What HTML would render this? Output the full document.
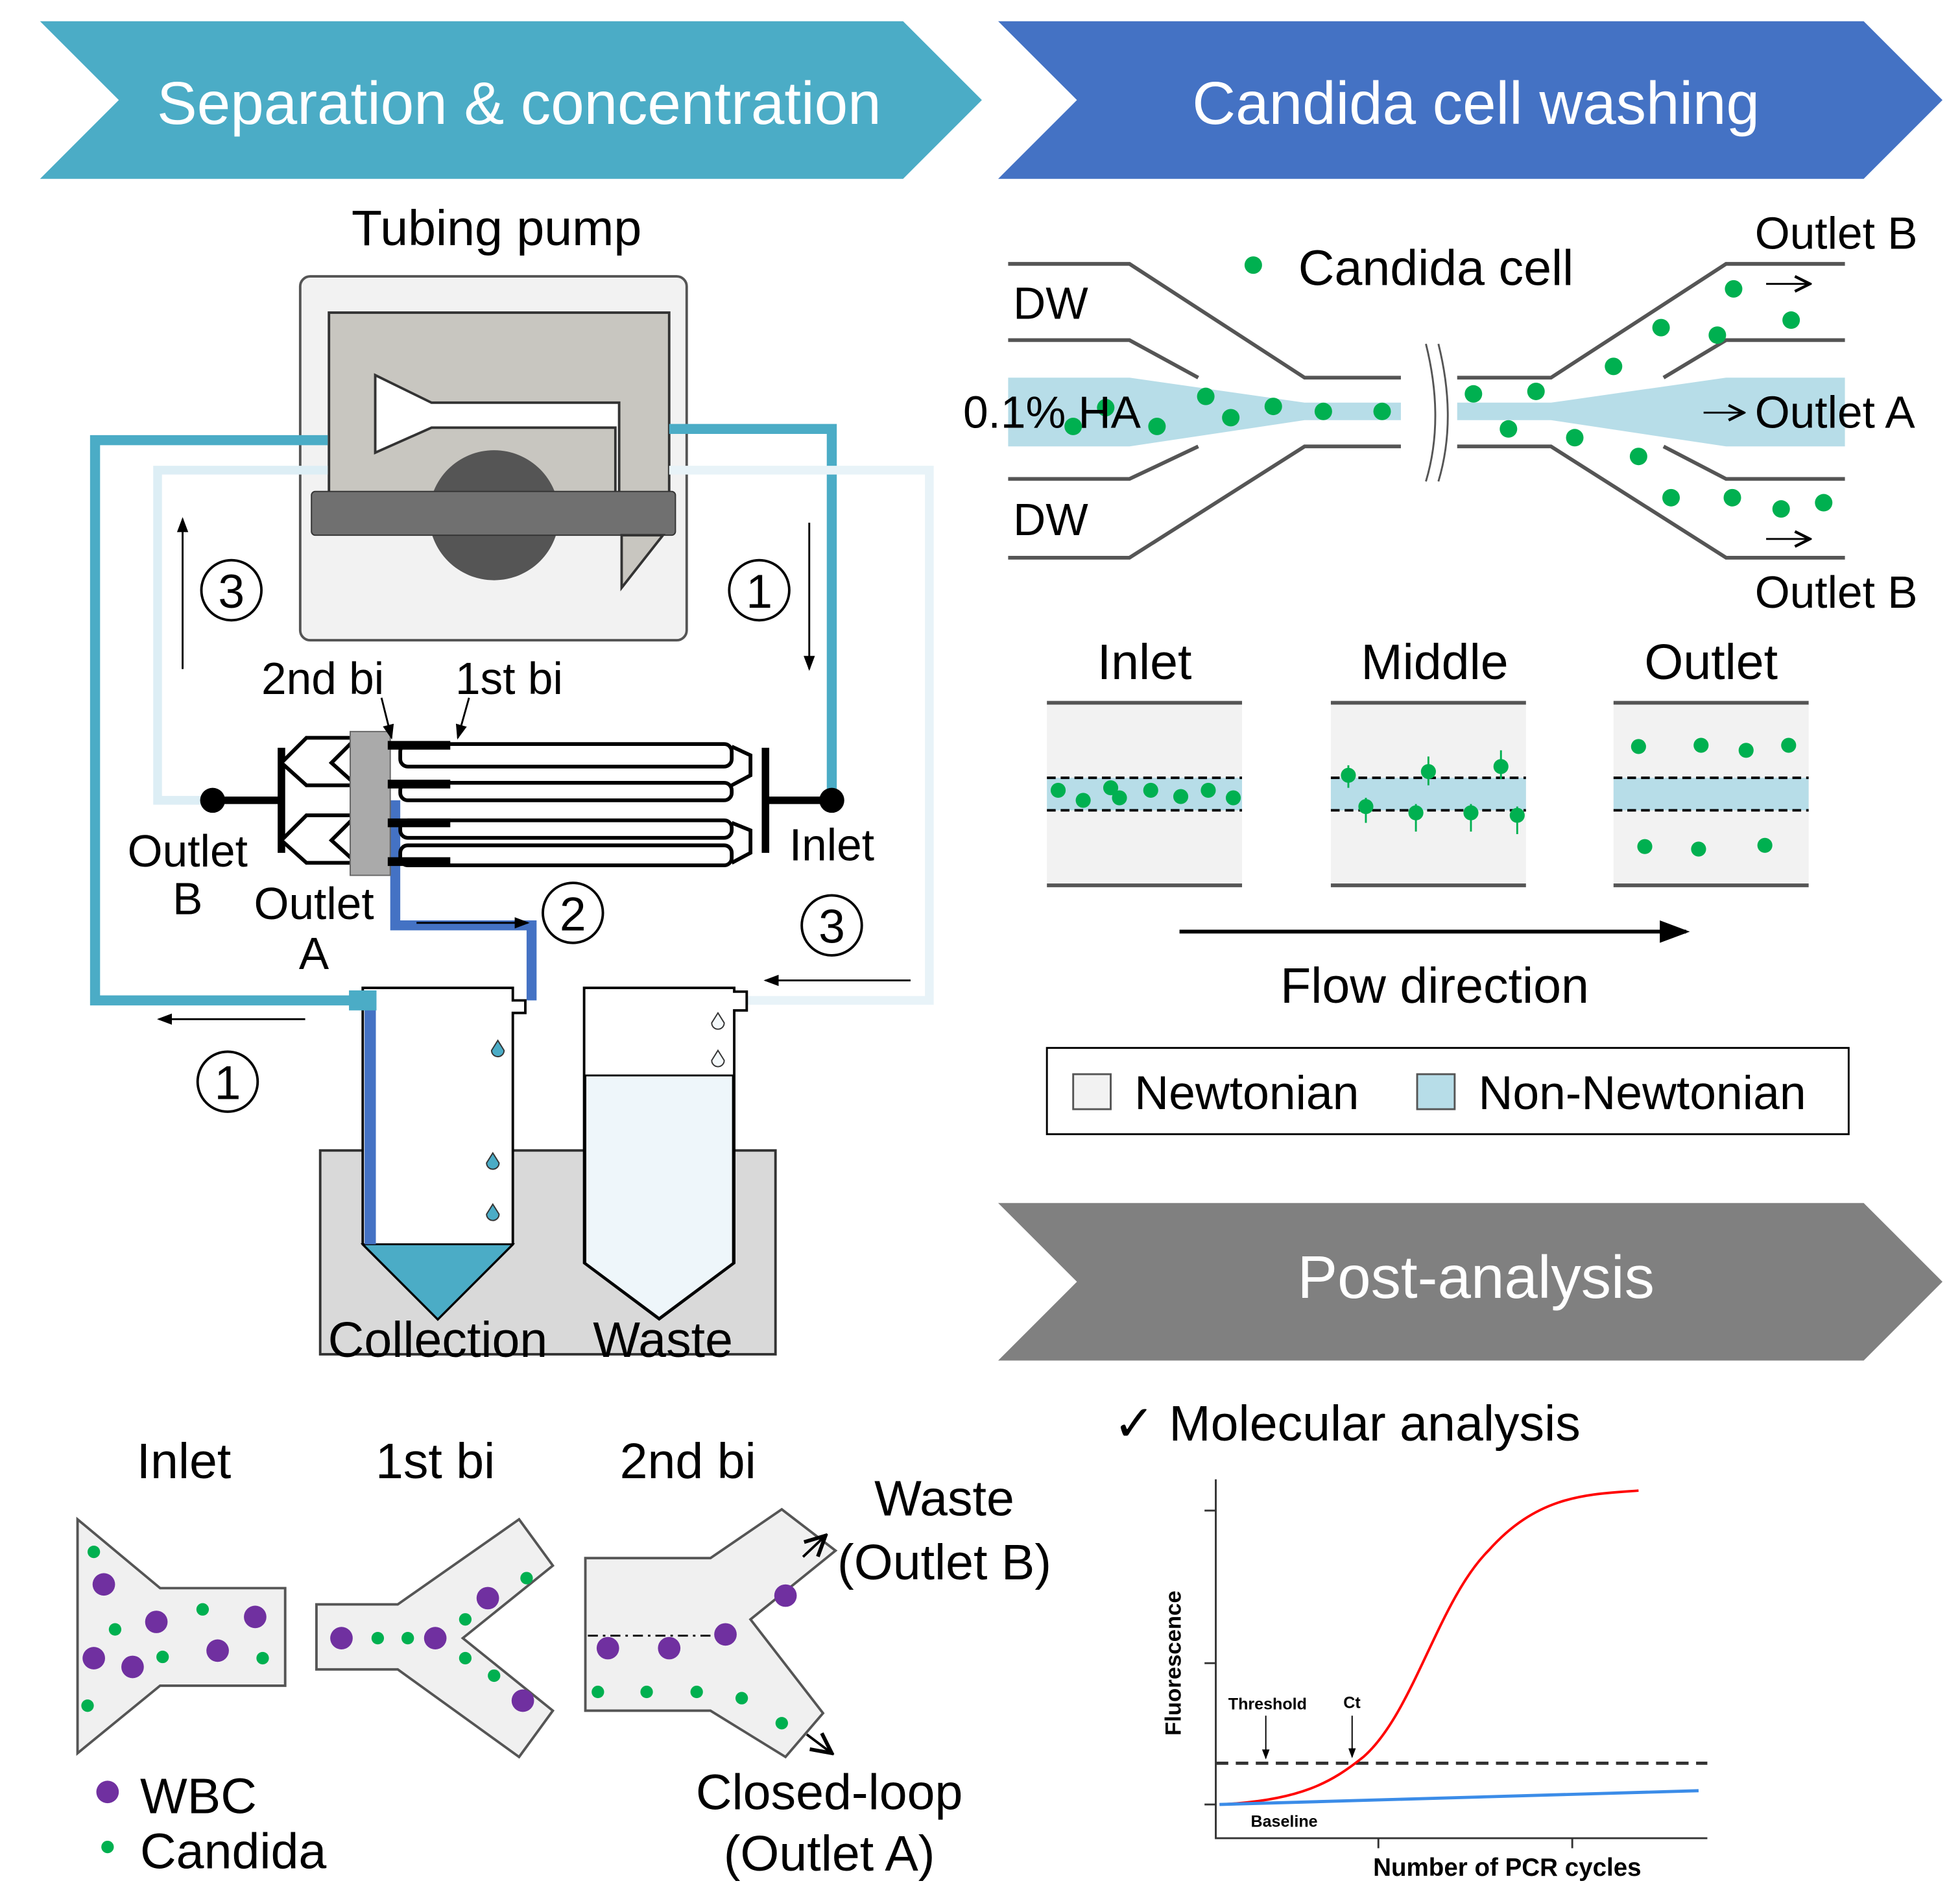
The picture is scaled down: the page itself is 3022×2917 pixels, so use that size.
<!DOCTYPE html>
<html><head><meta charset="utf-8"><style>html,body{margin:0;padding:0;background:#fff}svg{display:block}text{font-family:"Liberation Sans","DejaVu Sans",sans-serif}</style></head>
<body>
<svg width="3022" height="2917" viewBox="0 0 1567 1513" preserveAspectRatio="none" xmlns="http://www.w3.org/2000/svg">
<defs>
<marker id="ah" markerWidth="8" markerHeight="8" refX="7" refY="4" orient="auto"><path d="M0,1 L8,4 L0,7 z" fill="#000"/></marker>
<marker id="oa" markerWidth="10" markerHeight="10" refX="9" refY="5" orient="auto"><path d="M1,1 L9,5 L1,9" fill="none" stroke="#000" stroke-width="1.5"/></marker>
</defs>
<polygon points="32,17 722,17 785,80 722,143 32,143 95,80" fill="#4BACC6"/>
<text x="415" y="99" font-size="48" fill="#fff" text-anchor="middle">Separation &amp; concentration</text>
<polygon points="798,17 1490,17 1553,80 1490,143 798,143 861,80" fill="#4472C4"/>
<text x="1180" y="99" font-size="48" fill="#fff" text-anchor="middle">Candida cell washing</text>
<polygon points="798,962 1490,962 1553,1025 1490,1088 798,1088 861,1025" fill="#808080"/>
<text x="1180" y="1038" font-size="48" fill="#fff" text-anchor="middle">Post-analysis</text>

<text x="397" y="196" font-size="40" text-anchor="middle">Tubing pump</text>
<rect x="240" y="221" width="309" height="291" rx="8" fill="#f2f2f2" stroke="#555" stroke-width="2"/>
<rect x="263" y="250" width="272" height="150" fill="#c8c6c0" stroke="#333" stroke-width="2"/>
<polygon points="300,300 345,322 495,322 495,400 492,400 492,342 345,342 300,362" fill="#fff" stroke="#333" stroke-width="2"/>
<circle cx="395" cy="412" r="52" fill="#555"/>
<rect x="249" y="393" width="291" height="35" rx="3" fill="#707070" stroke="#333"/>
<polygon points="497,428 530,428 497,470" fill="#c8c6c0" stroke="#333" stroke-width="2"/>

<polyline points="262,352 76,352 76,800 290,800" fill="none" stroke="#4BACC6" stroke-width="8"/>
<polyline points="535,343 665,343 665,640" fill="none" stroke="#4BACC6" stroke-width="8"/>
<polyline points="262,376 126,376 126,640 165,640" fill="none" stroke="#ddeef5" stroke-width="7"/>
<polyline points="535,376 743,376 743,800 592,800" fill="none" stroke="#e8f3f8" stroke-width="7"/>
<polyline points="316,640 316,740 425,740 425,800" fill="none" stroke="#4472C4" stroke-width="8"/>

<line x1="146" y1="535" x2="146" y2="415" stroke="#000" stroke-width="1.5" marker-end="url(#ah)"/>
<line x1="647" y1="418" x2="647" y2="535" stroke="#000" stroke-width="1.5" marker-end="url(#ah)"/>
<line x1="333" y1="738" x2="422" y2="738" stroke="#000" stroke-width="1.5" marker-end="url(#ah)"/>
<line x1="728" y1="784" x2="612" y2="784" stroke="#000" stroke-width="1.5" marker-end="url(#ah)"/>
<line x1="244" y1="815" x2="127" y2="815" stroke="#000" stroke-width="1.5" marker-end="url(#ah)"/>

<g stroke="#000" fill="#fff">
<path d="M170,640 H225 M225,598 V682" stroke-width="6"/>
<path d="M612,640 H665 M612,598 V682" stroke-width="6"/>
<g stroke-width="3">
<path d="M225,610 L245,590 L285,590 L265,610 L285,628 L245,628 Z"/>
<path d="M225,672 L245,652 L285,652 L265,672 L285,690 L245,690 Z"/>
<rect x="320" y="595" width="265" height="18" rx="6"/>
<rect x="320" y="626" width="265" height="14" rx="6"/>
<rect x="320" y="656" width="265" height="14" rx="6"/>
<rect x="320" y="676" width="265" height="16" rx="6"/>
<path d="M585,597 L600,604 V620 L585,628 M585,658 L600,664 V682 L585,690" fill="none"/>
</g>
<rect x="280" y="585" width="32" height="115" fill="#aaa" stroke="#666" stroke-width="1"/>
<path d="M310,596 H360 M310,627 H360 M310,658 H360 M310,689 H360" stroke-width="7"/>
</g>
<circle cx="170" cy="640" r="10" fill="#000"/>
<circle cx="665" cy="640" r="10" fill="#000"/>
<line x1="305" y1="558" x2="313" y2="590" stroke="#000" stroke-width="1.5" marker-end="url(#ah)"/>
<line x1="375" y1="558" x2="366" y2="590" stroke="#000" stroke-width="1.5" marker-end="url(#ah)"/>

<g font-size="36" text-anchor="middle">
<text x="258" y="555">2nd bi</text><text x="407" y="555">1st bi</text>
<text x="150" y="693">Outlet</text><text x="150" y="731">B</text>
<text x="251" y="735">Outlet</text><text x="251" y="775">A</text>
<text x="665" y="688">Inlet</text>
</g>
<g fill="none" stroke="#000" stroke-width="2">
<circle cx="185" cy="472" r="24"/><circle cx="607" cy="472" r="24"/><circle cx="458" cy="730" r="24"/><circle cx="665" cy="740" r="24"/><circle cx="182" cy="865" r="24"/>
</g>
<g font-size="38" text-anchor="middle">
<text x="185" y="486">3</text><text x="607" y="486">1</text><text x="458" y="744">2</text><text x="665" y="754">3</text><text x="182" y="879">1</text>
</g>

<rect x="256" y="920" width="364" height="163" fill="#d9d9d9" stroke="#333" stroke-width="2"/>
<path d="M290,790 H410 V800 H420 V810 H410 V995 L350,1055 L290,995 Z" fill="#fff" stroke="#000" stroke-width="2"/>
<polygon points="290,995 410,995 350,1055" fill="#4BACC6" stroke="#000" stroke-width="1.5"/>
<line x1="296" y1="800" x2="296" y2="995" stroke="#4472C4" stroke-width="9"/>
<rect x="279" y="792" width="22" height="16" fill="#4BACC6"/>
<path d="M467,790 H587 V793 H597 V808 H587 V1010 L527,1055 L467,1010 Z" fill="#fff" stroke="#000" stroke-width="2"/>
<path d="M468,860 H586 V1010 L527,1054 L468,1010 Z" fill="#eef6fa" stroke="#000" stroke-width="1.5"/>
<g fill="#4BACC6" stroke="#333"><path d="M398,832 l5,8 a5,5 0 1 1 -10,0 z"/><path d="M394,922 l5,8 a5,5 0 1 1 -10,0 z"/><path d="M394,963 l5,8 a5,5 0 1 1 -10,0 z"/></g>
<g fill="#f4f9fb" stroke="#333"><path d="M574,810 l5,8 a5,5 0 1 1 -10,0 z"/><path d="M574,840 l5,8 a5,5 0 1 1 -10,0 z"/></g>
<text x="350" y="1085" font-size="40" text-anchor="middle">Collection</text>
<text x="530" y="1085" font-size="40" text-anchor="middle">Waste</text>

<g font-size="40" text-anchor="middle"><text x="147" y="1182">Inlet</text><text x="348" y="1182">1st bi</text><text x="550" y="1182">2nd bi</text></g>
<g fill="#f0f0f0" stroke="#555" stroke-width="2">
<polygon points="62,1215 128,1270 228,1270 228,1348 128,1348 62,1402"/>
<polygon points="253,1283 318,1283 415,1215 442,1252 370,1310 442,1368 415,1405 318,1335 253,1335"/>
<polygon points="468,1246 568,1246 625,1207 668,1240 600,1295 658,1370 628,1405 568,1368 468,1368"/>
</g>
<line x1="470" y1="1308" x2="572" y2="1308" stroke="#000" stroke-width="1.5" stroke-dasharray="8,4,2,4"/>
<g fill="#7030A0">
<circle cx="83" cy="1267" r="9"/><circle cx="125" cy="1297" r="9"/><circle cx="75" cy="1326" r="9"/><circle cx="106" cy="1333" r="9"/><circle cx="174" cy="1320" r="9"/><circle cx="204" cy="1293" r="9"/>
<circle cx="273" cy="1310" r="9"/><circle cx="348" cy="1310" r="9"/><circle cx="390" cy="1278" r="9"/><circle cx="418" cy="1360" r="9"/>
<circle cx="486" cy="1318" r="9"/><circle cx="535" cy="1318" r="9"/><circle cx="580" cy="1307" r="9"/><circle cx="628" cy="1276" r="9"/>
<circle cx="86" cy="1433" r="9"/>
</g>
<g fill="#00B050">
<circle cx="75" cy="1241" r="5"/><circle cx="92" cy="1303" r="5"/><circle cx="130" cy="1325" r="5"/><circle cx="162" cy="1287" r="5"/><circle cx="210" cy="1326" r="5"/><circle cx="70" cy="1364" r="5"/>
<circle cx="302" cy="1310" r="5"/><circle cx="326" cy="1310" r="5"/><circle cx="372" cy="1295" r="5"/><circle cx="372" cy="1326" r="5"/><circle cx="395" cy="1340" r="5"/><circle cx="421" cy="1262" r="5"/>
<circle cx="478" cy="1353" r="5"/><circle cx="517" cy="1353" r="5"/><circle cx="557" cy="1353" r="5"/><circle cx="593" cy="1358" r="5"/><circle cx="625" cy="1378" r="5"/>
<circle cx="86" cy="1477" r="5"/>
</g>
<line x1="642" y1="1245" x2="660" y2="1228" stroke="#000" stroke-width="2" marker-end="url(#oa)"/>
<line x1="645" y1="1387" x2="665" y2="1402" stroke="#000" stroke-width="2" marker-end="url(#oa)"/>
<g font-size="40"><text x="112" y="1450">WBC</text><text x="112" y="1494">Candida</text></g>
<g font-size="40" text-anchor="middle"><text x="755" y="1212">Waste</text><text x="755" y="1263">(Outlet B)</text><text x="663" y="1447">Closed-loop</text><text x="663" y="1496">(Outlet A)</text></g>

<polygon points="806,302 903,302 1043,322 1120,322 1120,336 1043,336 903,357 806,357" fill="#b7dde8"/>
<polygon points="1475,302 1380,302 1240,322 1165,322 1165,336 1240,336 1380,357 1475,357" fill="#b7dde8"/>
<g fill="none" stroke="#555" stroke-width="3">
<polyline points="806,211 903,211 1043,302 1120,302"/>
<polyline points="806,272 903,272 958,302"/>
<polyline points="806,383 903,383 958,357"/>
<polyline points="806,446 903,446 1043,357 1120,357"/>
<polyline points="1475,211 1380,211 1240,302 1165,302"/>
<polyline points="1475,272 1380,272 1330,302"/>
<polyline points="1475,383 1380,383 1330,357"/>
<polyline points="1475,446 1380,446 1240,357 1165,357"/>
<path d="M1140,275 q15,60 0,110 M1150,275 q15,60 0,110" stroke-width="1.5"/>
</g>
<g fill="#00B050">
<circle cx="1002" cy="212" r="7"/>
<circle cx="858" cy="341" r="7"/><circle cx="884" cy="326" r="7"/><circle cx="925" cy="341" r="7"/><circle cx="964" cy="317" r="7"/><circle cx="984" cy="334" r="7"/><circle cx="1018" cy="325" r="7"/><circle cx="1058" cy="329" r="7"/><circle cx="1105" cy="329" r="7"/>
<circle cx="1178" cy="315" r="7"/><circle cx="1206" cy="343" r="7"/><circle cx="1228" cy="313" r="7"/><circle cx="1259" cy="350" r="7"/><circle cx="1290" cy="293" r="7"/><circle cx="1310" cy="365" r="7"/><circle cx="1328" cy="262" r="7"/><circle cx="1336" cy="398" r="7"/><circle cx="1373" cy="268" r="7"/><circle cx="1386" cy="231" r="7"/><circle cx="1385" cy="398" r="7"/><circle cx="1424" cy="407" r="7"/><circle cx="1432" cy="256" r="7"/><circle cx="1458" cy="402" r="7"/>
</g>
<line x1="1412" y1="227" x2="1447" y2="227" stroke="#000" stroke-width="1.5" marker-end="url(#oa)"/>
<line x1="1412" y1="431" x2="1447" y2="431" stroke="#000" stroke-width="1.5" marker-end="url(#oa)"/>
<line x1="1362" y1="330" x2="1394" y2="330" stroke="#000" stroke-width="1.5" marker-end="url(#oa)"/>
<g font-size="36"><text x="810" y="255">DW</text><text x="810" y="428">DW</text><text x="770" y="342">0.1% HA</text><text x="1038" y="228" font-size="40">Candida cell</text>
<text x="1403" y="199">Outlet B</text><text x="1403" y="342">Outlet A</text><text x="1403" y="486">Outlet B</text></g>

<g font-size="40" text-anchor="middle"><text x="915" y="543">Inlet</text><text x="1147" y="543">Middle</text><text x="1368" y="543">Outlet</text></g>
<g>
<rect x="837" y="562" width="156" height="146" fill="#f2f2f2"/><rect x="837" y="622" width="156" height="26" fill="#b7dde8"/>
<rect x="1064" y="562" width="156" height="146" fill="#f2f2f2"/><rect x="1064" y="622" width="156" height="26" fill="#b7dde8"/>
<rect x="1290" y="562" width="156" height="146" fill="#f2f2f2"/><rect x="1290" y="622" width="156" height="26" fill="#b7dde8"/>
<g stroke="#555" stroke-width="3"><path d="M837,562 H993 M837,708 H993 M1064,562 H1220 M1064,708 H1220 M1290,562 H1446 M1290,708 H1446"/></g>
<g stroke="#000" stroke-width="2" stroke-dasharray="7,4"><path d="M837,622 H993 M837,648 H993 M1064,622 H1220 M1064,648 H1220 M1290,622 H1446 M1290,648 H1446"/></g>
</g>
<g fill="#00B050">
<circle cx="846" cy="632" r="6"/><circle cx="866" cy="640" r="6"/><circle cx="888" cy="630" r="6"/><circle cx="895" cy="638" r="6"/><circle cx="920" cy="632" r="6"/><circle cx="944" cy="637" r="6"/><circle cx="966" cy="632" r="6"/><circle cx="986" cy="638" r="6"/>
<circle cx="1078" cy="620" r="6"/><circle cx="1092" cy="645" r="6"/><circle cx="1142" cy="617" r="6"/><circle cx="1132" cy="650" r="6"/><circle cx="1200" cy="613" r="6"/><circle cx="1176" cy="650" r="6"/><circle cx="1213" cy="652" r="6"/>
<circle cx="1310" cy="597" r="6"/><circle cx="1360" cy="596" r="6"/><circle cx="1396" cy="600" r="6"/><circle cx="1430" cy="596" r="6"/><circle cx="1315" cy="677" r="6"/><circle cx="1358" cy="679" r="6"/><circle cx="1411" cy="676" r="6"/>
</g>
<g stroke="#00B050" stroke-width="1.5"><path d="M1078,612 V630 M1142,605 V628 M1200,600 V623 M1092,638 V658 M1132,643 V665 M1176,643 V665 M1213,645 V667"/></g>
<line x1="943" y1="745" x2="1348" y2="745" stroke="#000" stroke-width="3" marker-end="url(#ah)"/>
<text x="1147" y="802" font-size="40" text-anchor="middle">Flow direction</text>
<rect x="837" y="838" width="641" height="69" fill="#fff" stroke="#000" stroke-width="1.5"/>
<rect x="858" y="859" width="30" height="28" fill="#f2f2f2" stroke="#555" stroke-width="1.5"/>
<rect x="1133" y="859" width="30" height="28" fill="#b7dde8" stroke="#555" stroke-width="1.5"/>
<g font-size="38"><text x="907" y="887">Newtonian</text><text x="1182" y="887">Non-Newtonian</text></g>

<text x="890" y="1152" font-size="40">✓ Molecular analysis</text>
<g stroke="#333" stroke-width="1.5" fill="none">
<path d="M972,1183 V1470 H1365"/>
<path d="M963,1208 H972 M963,1330 H972 M963,1443 H972 M1102,1470 V1478 M1257,1470 V1478"/>
</g>
<line x1="972" y1="1410" x2="1365" y2="1410" stroke="#333" stroke-width="2.5" stroke-dasharray="10,6"/>
<path d="M975,1443 C1040,1440 1065,1425 1090,1405 C1130,1370 1150,1280 1190,1240 C1230,1195 1270,1195 1310,1192" fill="none" stroke="#f00" stroke-width="2"/>
<line x1="975" y1="1443" x2="1358" y2="1432" stroke="#3b8ce8" stroke-width="2.5"/>
<line x1="1012" y1="1372" x2="1012" y2="1406" stroke="#000" stroke-width="1" marker-end="url(#ah)"/>
<line x1="1081" y1="1372" x2="1081" y2="1405" stroke="#000" stroke-width="1" marker-end="url(#ah)"/>
<g font-size="13" font-weight="bold"><text x="982" y="1367">Threshold</text><text x="1074" y="1366">Ct</text><text x="1000" y="1461">Baseline</text></g>
<text x="1205" y="1500" font-size="20" font-weight="bold" text-anchor="middle">Number of PCR cycles</text>
<text transform="translate(944,1330) rotate(-90)" font-size="18" font-weight="bold" text-anchor="middle">Fluorescence</text>
</svg>
</body></html>
